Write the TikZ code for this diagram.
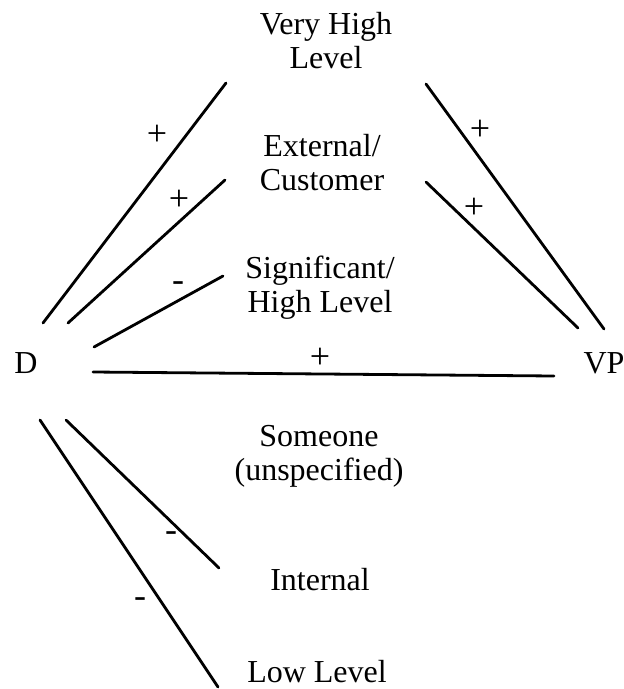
\documentclass[tikz,border=0pt]{standalone}
\usepackage{fontspec}
\setmainfont{Liberation Serif}
\begin{document}
\begin{tikzpicture}[x=1pt,y=-1pt,
  lbl/.style={font=\fontsize{32}{33.5}\selectfont, align=center, inner sep=0pt, anchor=base},
  sgn/.style={font=\fontsize{36}{38}\selectfont, inner sep=0pt},
  link/.style={line width=2.8pt, line cap=round}]
\useasboundingbox (0,0) rectangle (624,689);

% category labels (anchored on the baseline of their last line)
\node[lbl] (vh)  at (326,68)  {Very High\\Level};
\node[lbl] (ext) at (322,190) {External/\\Customer};
\node[lbl] (sig) at (320,312) {Significant/\\High Level};
\node[lbl] (som) at (319,480) {Someone\\(unspecified)};
\node[lbl] (int) at (320,590) {Internal};
\node[lbl] (low) at (317,682) {Low Level};
\node[lbl] (d)   at (26,373)  {D};
\node[lbl] (vp)  at (604,373) {VP};

% line end points
\coordinate (a1) at (43,323);  \coordinate (a2) at (226,83);
\coordinate (b1) at (68,323);  \coordinate (b2) at (225,180);
\coordinate (c1) at (94,347);  \coordinate (c2) at (223,276);
\coordinate (h1) at (93,372);  \coordinate (h2) at (554,376);
\coordinate (e1) at (66,420);  \coordinate (e2) at (219,568);
\coordinate (f1) at (40,420);  \coordinate (f2) at (218,687);
\coordinate (r1) at (604,329); \coordinate (r2) at (426,84);
\coordinate (s1) at (578,328); \coordinate (s2) at (426,182);

% links
\draw[link] (a1) -- (a2);
\draw[link] (b1) -- (b2);
\draw[link] (c1) -- (c2);
\draw[link] (h1) -- (h2);
\draw[link] (e1) -- (e2);
\draw[link] (f1) -- (f2);
\draw[link] (r1) -- (r2);
\draw[link] (s1) -- (s2);

% signs
\node[sgn] (pa) at (157,135) {+};
\node[sgn] (pb) at (179,200) {+};
\node[sgn] (mc) at (178,287) {-};
\node[sgn] (ph) at (320,358) {+};
\node[sgn] (pr) at (480,130) {+};
\node[sgn] (ps) at (474,208) {+};
\node[sgn] (me) at (171,537) {-};
\node[sgn] (mf) at (140,603) {-};
\end{tikzpicture}
\end{document}
